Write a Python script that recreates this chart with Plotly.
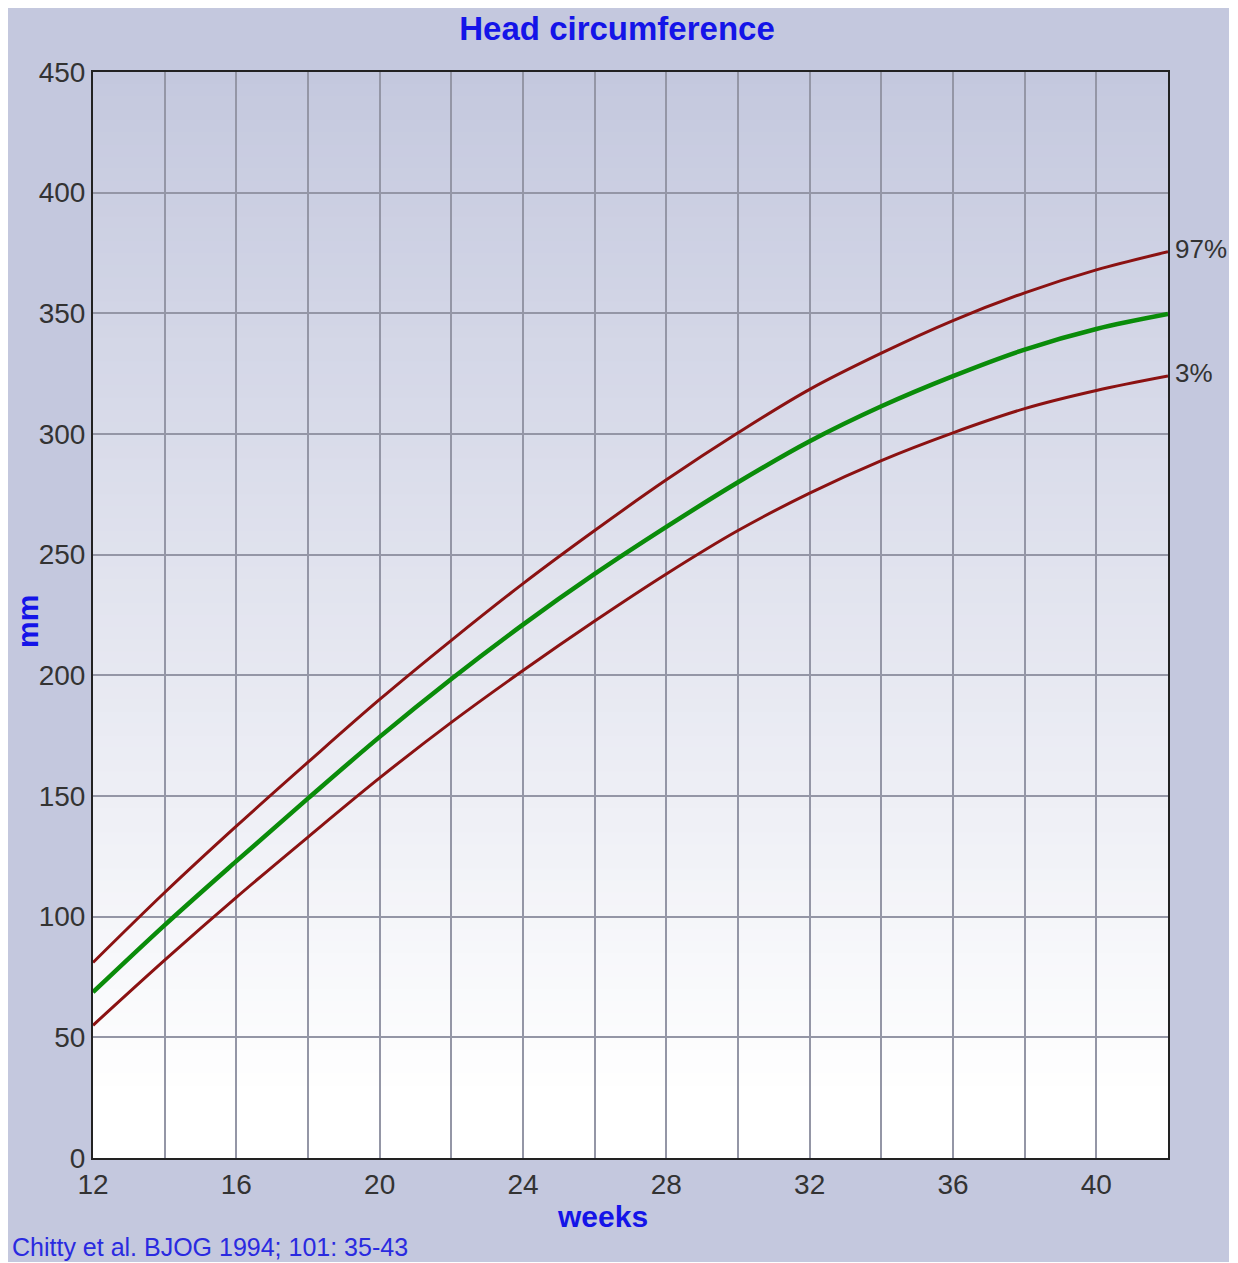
import plotly.graph_objects as go

# Chitty et al. head circumference centiles (mm)
weeks = [12, 14, 16, 18, 20, 22, 24, 26, 28, 30, 32, 34, 36, 38, 40, 42]
p97 = [81, 110, 137.5, 164, 190, 214.5, 238, 260, 281, 300.5, 318.5, 333.5, 347, 358.5, 368, 375.5]
p50 = [68.7, 96.5, 123, 149, 174.5, 198.5, 221, 242, 261.5, 280, 297, 311.5, 324, 335, 343.5, 349.7]
p3 = [55, 82, 108, 133, 157.5, 180.5, 202, 222.5, 242, 260, 275.5, 289, 300.5, 310.5, 318, 324]

x_ticks = [12, 16, 20, 24, 28, 32, 36, 40]
y_ticks = [0, 50, 100, 150, 200, 250, 300, 350, 400, 450]

LAV = (196, 200, 222)
BLUE = "#1414e8"
RED = "#8b1212"
GREEN = "#0a8c0a"

fig = go.Figure()

fig.add_trace(go.Scatter(x=weeks, y=p97, mode="lines", line=dict(color=RED, width=3, shape="spline"),
                         hoverinfo="skip"))
fig.add_trace(go.Scatter(x=weeks, y=p3, mode="lines", line=dict(color=RED, width=3, shape="spline"),
                         hoverinfo="skip"))
fig.add_trace(go.Scatter(x=weeks, y=p50, mode="lines", line=dict(color=GREEN, width=4.5, shape="spline"),
                         hoverinfo="skip"))

# vertical gradient in the plot area (white at the bottom, lavender at the top)
shapes = []
n = 90
for i in range(n):
    y0 = 450 * i / n
    y1 = 450 * (i + 1) / n
    t = max(0.0, ((y0 + y1) / 2 - 25) / 425)
    c = tuple(round(255 * (1 - t) + LAV[k] * t) for k in range(3))
    shapes.append(dict(type="rect", xref="paper", yref="y", x0=0, x1=1, y0=y0, y1=y1 + 0.5,
                       fillcolor="rgb(%d,%d,%d)" % c, line=dict(width=0), layer="below"))

annotations = [
    dict(x=weeks[-1], y=p97[-1], text="97%", showarrow=False, xanchor="left", xshift=5, yshift=3,
         font=dict(size=26, color="#333333")),
    dict(x=weeks[-1], y=p3[-1], text="3%", showarrow=False, xanchor="left", xshift=5, yshift=3,
         font=dict(size=26, color="#333333")),
    dict(xref="paper", yref="paper", x=0.4735, y=-0.0543, text="<b>weeks</b>", showarrow=False,
         xanchor="center", yanchor="middle", font=dict(size=30, color=BLUE)),
    dict(xref="paper", yref="paper", x=-0.0605, y=0.4945, text="<b>mm</b>", showarrow=False, textangle=-90,
         xanchor="center", yanchor="middle", font=dict(size=30, color=BLUE)),
    dict(xref="paper", yref="paper", x=-0.0772, y=-0.082, text="Chitty et al. BJOG 1994; 101: 35-43",
         showarrow=False, xanchor="left", yanchor="middle", font=dict(size=25, color="#2a2ae0")),
]

fig.update_layout(
    width=1221, height=1254,
    margin=dict(l=85, r=61, t=64, b=104),
    paper_bgcolor="rgb(%d,%d,%d)" % LAV,
    plot_bgcolor="rgba(0,0,0,0)",
    showlegend=False,
    font=dict(family="Liberation Sans, Arial, sans-serif"),
    title=dict(text="<b>Head circumference</b>", x=0.4988, xanchor="center", y=1 - 20 / 1254,
               yanchor="middle", font=dict(size=33, color=BLUE)),
    shapes=shapes,
    annotations=annotations,
)

# only every second grid line gets a label
fig.update_xaxes(range=[12, 42], tickmode="array", tickvals=list(range(12, 43, 2)),
                 ticktext=[str(w) if w in x_ticks else "" for w in range(12, 43, 2)],
                 showgrid=True, gridcolor="#9496a6", gridwidth=1.5,
                 showline=True, linecolor="#222222", linewidth=2, mirror=True,
                 ticks="", zeroline=False, automargin=False,
                 tickfont=dict(size=28, color="#333333"))
fig.update_yaxes(range=[0, 450], tickvals=y_ticks,
                 showgrid=True, gridcolor="#9496a6", gridwidth=1.5,
                 showline=True, linecolor="#222222", linewidth=2, mirror=True,
                 ticks="", zeroline=False, automargin=False,
                 tickfont=dict(size=28, color="#333333"))

fig.write_html("out.html")
